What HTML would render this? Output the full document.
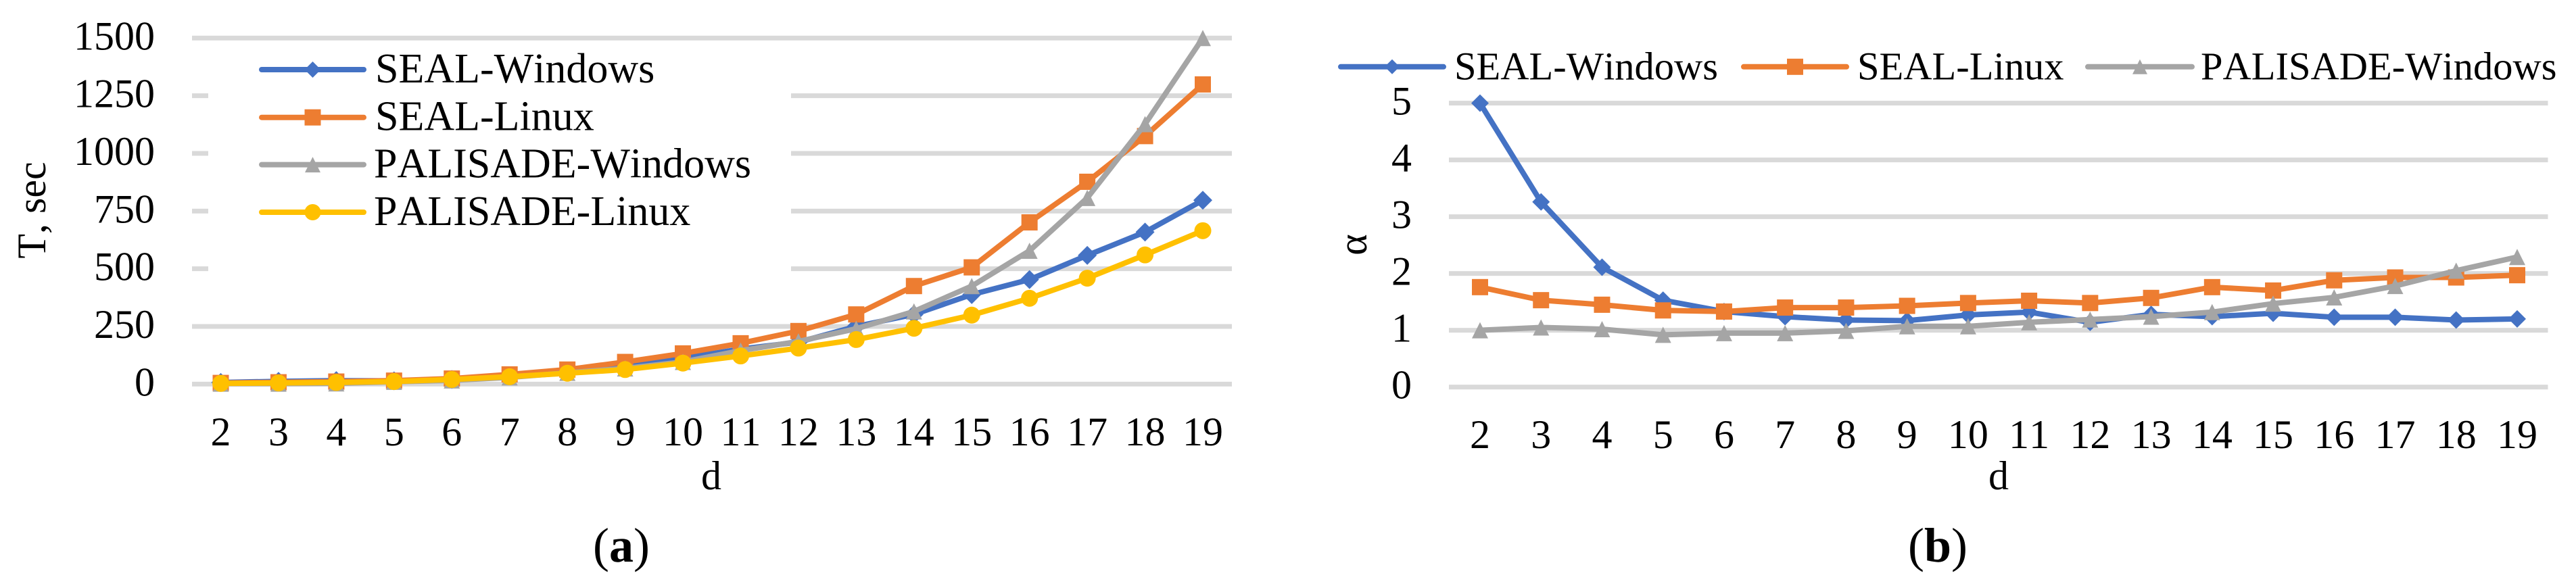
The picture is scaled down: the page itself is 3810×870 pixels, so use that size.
<!DOCTYPE html>
<html lang="en">
<head>
<meta charset="utf-8">
<title>SEAL and PALISADE timing charts</title>
<style>
html,body{margin:0;padding:0;background:#fff;}
body{width:3810px;height:870px;overflow:hidden;}
svg{display:block;}
text{font-family:"Liberation Serif",serif;fill:#000;font-kerning:none;}
</style>
</head>
<body>
<svg id="figure" xmlns="http://www.w3.org/2000/svg" width="3810" height="870" viewBox="0 0 3810 870">
  <rect x="0" y="0" width="3810" height="870" fill="#fff"/>
  <g id="chart-a"></g>
  <g id="chart-b"></g>
  <text transform="translate(67,311) rotate(-90)" text-anchor="middle" font-size="60">T, sec</text>
  <text x="1052" y="724" text-anchor="middle" font-size="60">d</text>
  <text x="919" y="831" text-anchor="middle" font-size="72">(<tspan font-weight="bold">a</tspan>)</text>
  <text transform="translate(2021,362) rotate(-90)" text-anchor="middle" font-size="60">α</text>
  <text x="2956" y="724" text-anchor="middle" font-size="60">d</text>
  <text x="2866" y="831" text-anchor="middle" font-size="72">(<tspan font-weight="bold">b</tspan>)</text>
</svg>
<script>
const categories = [2,3,4,5,6,7,8,9,10,11,12,13,14,15,16,17,18,19];

const ticksA = [0,250,500,750,1000,1250,1500];
const sealWindowsA = [7,12,15,14,20,36,52,80,112,152,182,250,302,388,453,558,659,797];
const sealLinuxA = [5,8,11,15,24,42,63,96,133,177,230,302,425,506,701,877,1075,1299];
const palisadeWindowsA = [2,2,3,10,16,29,49,68,96,145,185,240,315,425,578,807,1127,1500];
const palisadeLinuxA = [3,5,7,11,20,32,47,63,91,122,156,193,242,299,372,459,560,665];

const ticksB = [0,1,2,3,4,5];
const sealWindowsB = [5.0,3.26,2.11,1.53,1.33,1.24,1.18,1.17,1.27,1.32,1.14,1.28,1.24,1.30,1.23,1.23,1.18,1.20];
const sealLinuxB = [1.76,1.53,1.45,1.35,1.33,1.40,1.40,1.43,1.48,1.52,1.48,1.57,1.76,1.70,1.88,1.93,1.93,1.97];
const palisadeWindowsB = [1.0,1.05,1.02,0.92,0.95,0.95,0.99,1.07,1.07,1.14,1.19,1.24,1.32,1.47,1.58,1.78,2.05,2.29];

const nameSealWindows = "SEAL-Windows";
const nameSealLinux = "SEAL-Linux";
const namePalisadeWindows = "PALISADE-Windows";
const namePalisadeLinux = "PALISADE-Linux";

const NS = "http://www.w3.org/2000/svg";
const GRID = "#D9D9D9";
const BLUE = "#4472C4";
const ORANGE = "#ED7D31";
const GREY = "#A5A5A5";
const YELLOW = "#FFC000";

function svgEl(parent, tag, attrs) {
  const el = document.createElementNS(NS, tag);
  for (const k in attrs) el.setAttribute(k, attrs[k]);
  parent.appendChild(el);
  return el;
}

function drawMarker(parent, shape, cx, cy, color, size) {
  const r = size / 2;
  let el;
  if (shape === "diamond") {
    el = svgEl(parent, "polygon", {points: [cx, cy - r, cx + r, cy, cx, cy + r, cx - r, cy].join(","), fill: color});
  } else if (shape === "square") {
    el = svgEl(parent, "rect", {x: cx - r, y: cy - r, width: size, height: size, fill: color});
  } else if (shape === "triangle") {
    el = svgEl(parent, "polygon", {points: [cx, cy - r, cx + r, cy + r, cx - r, cy + r].join(","), fill: color});
  } else {
    el = svgEl(parent, "circle", {cx: cx, cy: cy, r: r, fill: color});
  }
  
  
  return el;
}

function drawChart(root, cfg) {
  const xScale = i => cfg.x0 + (cfg.x1 - cfg.x0) * i / (categories.length - 1);
  const yScale = v => cfg.y0 + (cfg.y1 - cfg.y0) * v / cfg.ticks[cfg.ticks.length - 1];

  cfg.ticks.forEach(t => {
    const line = svgEl(root, "rect", {x: cfg.gridLeft, y: yScale(t) - 3.5, width: cfg.gridRight - cfg.gridLeft, height: 7, fill: GRID});
    
    
    const label = svgEl(root, "text", {x: cfg.tickRight, y: yScale(t) + 17, "text-anchor": "end", "font-size": 60});
    label.textContent = t;
    
    
  });

  categories.forEach((c, i) => {
    const label = svgEl(root, "text", {x: xScale(i), y: cfg.xLabelY, "text-anchor": "middle", "font-size": 60});
    label.textContent = c;
    
    
  });

  if (cfg.legendBox) {
    const box = svgEl(root, "rect", {x: cfg.legendBox[0], y: cfg.legendBox[1], width: cfg.legendBox[2], height: cfg.legendBox[3], fill: "#fff"});
    
    
  }

  cfg.series.forEach(s => {
    const group = svgEl(root, "g", {});
    
    
    const pts = s.values.map((v, i) => xScale(i) + "," + yScale(v)).join(" ");
    const line = svgEl(group, "polyline", {points: pts, fill: "none", stroke: s.color, "stroke-width": 8, "stroke-linejoin": "round", "stroke-linecap": "round"});
    
    
    s.values.forEach((v, i) => drawMarker(group, s.shape, xScale(i), yScale(v), s.color, s.size));
  });

  cfg.series.forEach((s, k) => {
    const pos = cfg.legend[k];
    const entry = svgEl(root, "g", {});
    
    
    const swatch = svgEl(entry, "line", {x1: pos.lineX0, x2: pos.lineX1, y1: pos.lineY, y2: pos.lineY, stroke: s.color, "stroke-width": 8, "stroke-linecap": "round"});
    
    
    drawMarker(entry, s.shape, (pos.lineX0 + pos.lineX1) / 2, pos.lineY, s.color, s.legendSize);
    const label = svgEl(entry, "text", {x: pos.textX, y: pos.textY, "font-size": cfg.legendFont});
    label.textContent = s.name;
    
    
  });
}

drawChart(document.getElementById("chart-a"), {
  x0: 326.5, x1: 1779, y0: 568.3, y1: 56.3,
  gridLeft: 284, gridRight: 1822, tickRight: 229, xLabelY: 659,
  ticks: ticksA,
  legendBox: [308, 72, 862, 375],
  legendFont: 62,
  series: [
    {name: nameSealWindows, values: sealWindowsA, color: BLUE, shape: "diamond", size: 28, legendSize: 24},
    {name: nameSealLinux, values: sealLinuxA, color: ORANGE, shape: "square", size: 24, legendSize: 24},
    {name: namePalisadeWindows, values: palisadeWindowsA, color: GREY, shape: "triangle", size: 24, legendSize: 23},
    {name: namePalisadeLinux, values: palisadeLinuxA, color: YELLOW, shape: "circle", size: 25, legendSize: 24}
  ],
  legend: [
    {lineX0: 387, lineX1: 538, lineY: 103, textX: 555, textY: 122},
    {lineX0: 387, lineX1: 538, lineY: 173.7, textX: 555, textY: 192.6},
    {lineX0: 387, lineX1: 538, lineY: 243.6, textX: 553, textY: 262.5},
    {lineX0: 387, lineX1: 538, lineY: 314, textX: 553, textY: 333}
  ]
});

drawChart(document.getElementById("chart-b"), {
  x0: 2189, x1: 3723, y0: 572.7, y1: 152.6,
  gridLeft: 2143, gridRight: 3768.5, tickRight: 2088, xLabelY: 663,
  ticks: ticksB,
  legendBox: null,
  legendFont: 58.5,
  series: [
    {name: nameSealWindows, values: sealWindowsB, color: BLUE, shape: "diamond", size: 26, legendSize: 22},
    {name: nameSealLinux, values: sealLinuxB, color: ORANGE, shape: "square", size: 24, legendSize: 24},
    {name: namePalisadeWindows, values: palisadeWindowsB, color: GREY, shape: "triangle", size: 24, legendSize: 22}
  ],
  legend: [
    {lineX0: 1983, lineX1: 2135, lineY: 98.8, textX: 2151, textY: 117.6},
    {lineX0: 2579, lineX1: 2731, lineY: 98.8, textX: 2747, textY: 117.6},
    {lineX0: 3088, lineX1: 3242, lineY: 98.8, textX: 3255, textY: 117.6}
  ]
});
</script>
</body>
</html>
